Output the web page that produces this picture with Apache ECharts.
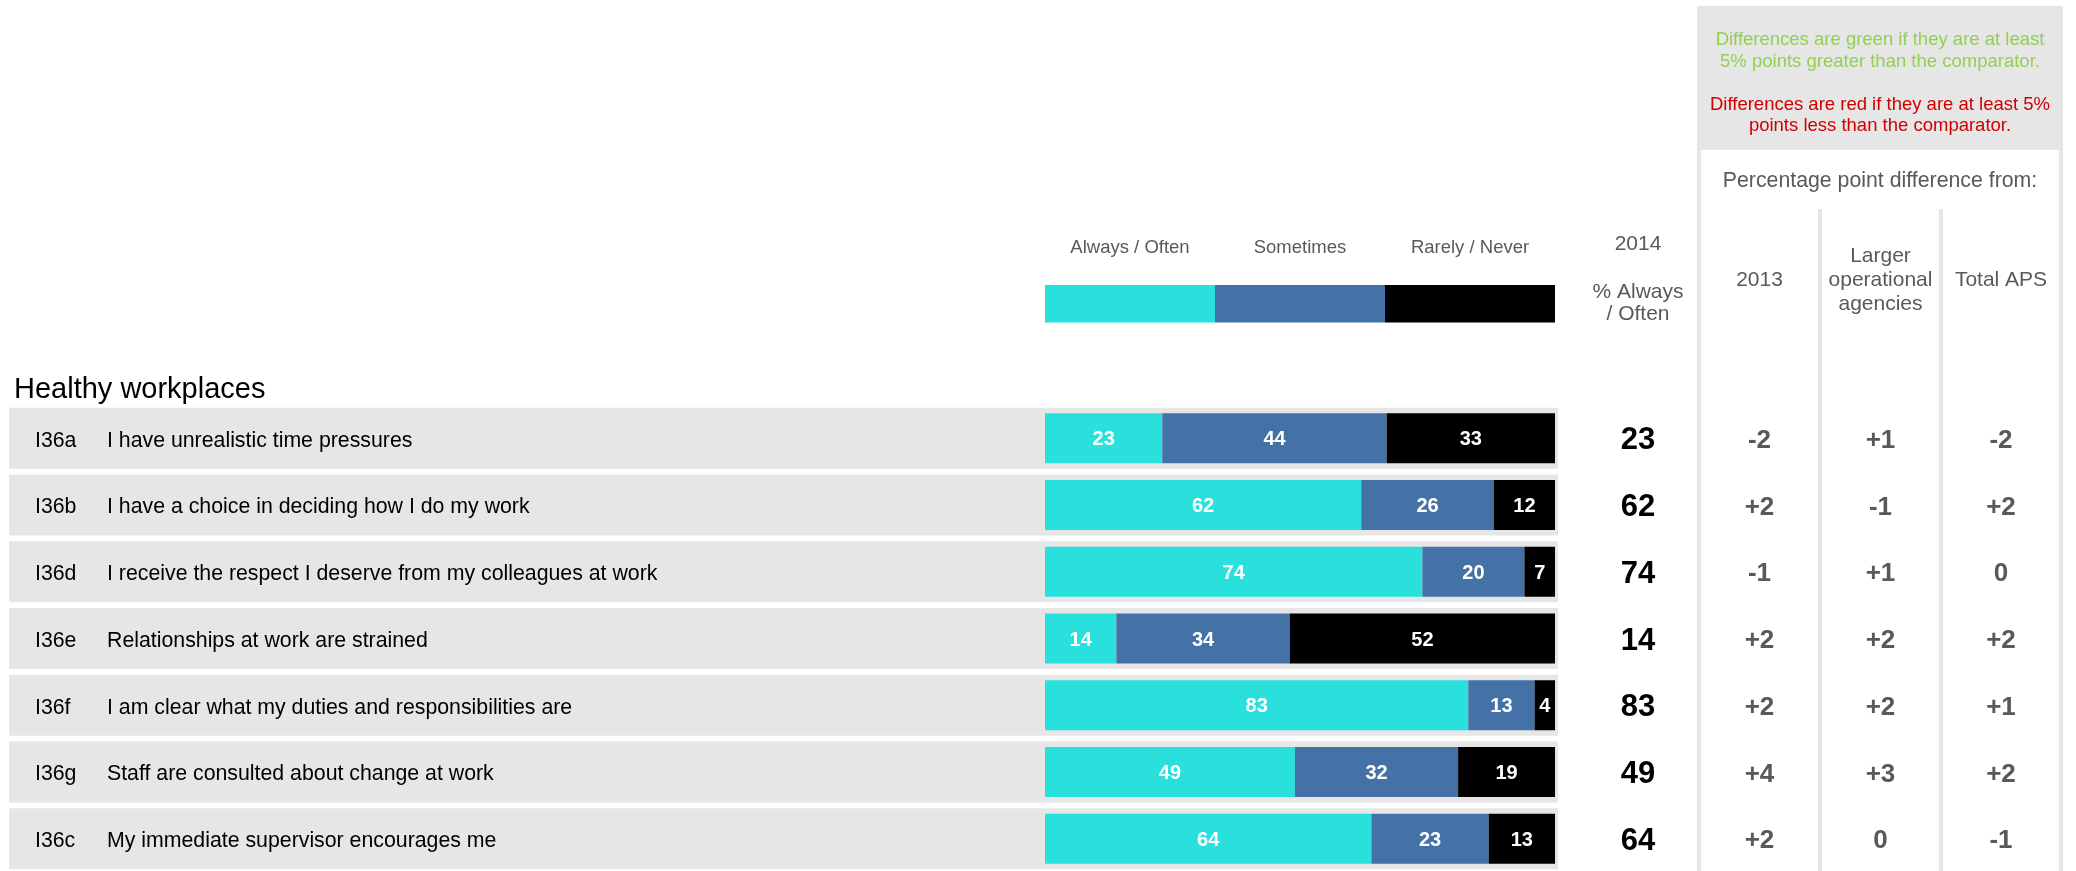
<!DOCTYPE html>
<html>
<head>
<meta charset="utf-8">
<title>Healthy workplaces</title>
<script src="https://cdn.jsdelivr.net/npm/echarts@6/dist/echarts.min.js"></script>
<style>
  html, body { margin: 0; padding: 0; background: #ffffff; }
  #chart { width: 2076px; height: 871px; }
</style>
</head>
<body>
<div id="chart"></div>
<script>
// ---- Survey items (top to bottom) ----
const itemCodes = ['I36a', 'I36b', 'I36d', 'I36e', 'I36f', 'I36g', 'I36c'];
const itemQuestions = [
  'I have unrealistic time pressures',
  'I have a choice in deciding how I do my work',
  'I receive the respect I deserve from my colleagues at work',
  'Relationships at work are strained',
  'I am clear what my duties and responsibilities are',
  'Staff are consulted about change at work',
  'My immediate supervisor encourages me'
];

// ---- Response distribution, % of respondents ----
const alwaysOften = [23, 62, 74, 14, 83, 49, 64];
const sometimes   = [44, 26, 20, 34, 13, 32, 23];
const rarelyNever = [33, 12, 7, 52, 4, 19, 13];

// ---- Percentage point differences from comparators ----
const diff2013     = [-2, 2, -1, 2, 2, 4, 2];
const diffLarger   = [1, -1, 1, 2, 2, 3, 0];
const diffTotalAPS = [-2, 2, 0, 2, 1, 2, -1];

// ---- Key / headings ----
const responseLabels = ['Always / Often', 'Sometimes', 'Rarely / Never'];
const keySwatch = [1, 1, 1];
const comparatorLabels = ['2013', 'Larger\noperational\nagencies', 'Total APS'];

const FONT = '"Liberation Sans", Arial, Helvetica, sans-serif';
const GREY_TEXT = '#595959';
const BAND = '#e6e6e6';
const COLORS = ['#2ae0dc', '#4472a6', '#000000'];

const BAR_LEFT = 1045, BAR_WIDTH = 510;
const ROWS_TOP = 405, ROWS_HEIGHT = 467;
const BAR_RIGHT = BAR_LEFT + BAR_WIDTH;

// centres of the value columns on the right
const COL_2014 = 1638;
const COL_CENTRES = [1759.5, 1880.5, 2001];

// nudges row text a little below the band centre
const ROW_TEXT_PAD = [5, 0, 0, 0];

const signed = v => (v > 0 ? '+' + v : String(v));
const diffTone = v => (v >= 5 ? 'up' : v <= -5 ? 'down' : 'same');

function rowAxis(position, label) {
  return {
    type: 'category', gridIndex: 0, position: position,
    data: itemCodes, inverse: true,
    axisLine: { show: false, onZero: false },
    axisTick: { show: false }, splitLine: { show: false },
    axisLabel: Object.assign({ interval: 0, fontFamily: FONT }, label)
  };
}

// row text drawn as a single rich fragment so it can be nudged down
function rowTextAxis(position, align, margin, style, textOf) {
  return rowAxis(position, {
    align: align, margin: margin,
    fontSize: style.fontSize, fontWeight: style.fontWeight || 'normal', color: style.color,
    formatter: (v, i) => '{t|' + textOf(i) + '}',
    rich: { t: Object.assign({ fontFamily: FONT, padding: ROW_TEXT_PAD }, style) }
  });
}

function diffAxis(values, centre) {
  const tone = color => ({ color: color, fontFamily: FONT, fontSize: 26, fontWeight: 'bold', padding: ROW_TEXT_PAD });
  return rowAxis('right', {
    align: 'center', margin: centre - BAR_RIGHT,
    fontSize: 26, fontWeight: 'bold', color: GREY_TEXT,
    formatter: (v, i) => '{' + diffTone(values[i]) + '|' + signed(values[i]) + '}',
    rich: { up: tone('#92d050'), down: tone('#d00000'), same: tone(GREY_TEXT) }
  });
}

function stackSeries(name, values, color) {
  return {
    name: name, type: 'bar', stack: 'share',
    xAxisIndex: 0, yAxisIndex: 0,
    barWidth: 50, silent: true,
    itemStyle: { color: color },
    label: {
      show: true, position: 'inside', color: '#ffffff',
      fontFamily: FONT, fontSize: 20, fontWeight: 'bold',
      formatter: p => '{v|' + p.value + '}',
      rich: { v: { color: '#ffffff', fontFamily: FONT, fontSize: 20, fontWeight: 'bold', padding: [3, 0, 0, 0] } }
    },
    data: values
  };
}

const staticGraphics = [
  // comparison panel frame
  { type: 'rect', z: 0, shape: { x: 1697, y: 6, width: 366, height: 144 }, style: { fill: BAND } },
  { type: 'rect', z: 0, shape: { x: 1697, y: 150, width: 4, height: 721 }, style: { fill: BAND } },
  { type: 'rect', z: 0, shape: { x: 2059, y: 150, width: 4, height: 721 }, style: { fill: BAND } },
  { type: 'rect', z: 0, shape: { x: 1818, y: 209, width: 4, height: 662 }, style: { fill: BAND } },
  { type: 'rect', z: 0, shape: { x: 1939, y: 209, width: 4, height: 662 }, style: { fill: BAND } },
  { type: 'text', z: 1, x: 1880, y: 51, style: {
      text: 'Differences are green if they are at least\n5% points greater than the comparator.',
      fill: '#92d050', font: '18.5px ' + FONT, align: 'center', verticalAlign: 'middle', lineHeight: 22 } },
  { type: 'text', z: 1, x: 1880, y: 115.5, style: {
      text: 'Differences are red if they are at least 5%\npoints less than the comparator.',
      fill: '#d00000', font: '18.5px ' + FONT, align: 'center', verticalAlign: 'middle', lineHeight: 21 } },
  { type: 'text', z: 1, x: 1880, y: 181, style: {
      text: 'Percentage point difference from:', fill: GREY_TEXT, font: '21.3px ' + FONT,
      align: 'center', verticalAlign: 'middle' } },
  // 2014 column heading
  { type: 'text', z: 1, x: COL_2014, y: 244, style: {
      text: '2014', fill: GREY_TEXT, font: '21px ' + FONT, align: 'center', verticalAlign: 'middle' } },
  { type: 'text', z: 1, x: COL_2014, y: 303.5, style: {
      text: '% Always\n/ Often', fill: GREY_TEXT, font: '21px ' + FONT, align: 'center',
      verticalAlign: 'middle', lineHeight: 22 } },
  // section heading
  { type: 'text', z: 1, x: 14, y: 390, style: {
      text: 'Healthy workplaces', fill: '#000000', font: '29px ' + FONT, align: 'left', verticalAlign: 'middle' } }
].concat(comparatorLabels.map((t, i) => ({
  type: 'text', z: 1, x: COL_CENTRES[i], y: 280, style: {
    text: t, fill: GREY_TEXT, font: '21px ' + FONT, align: 'center', verticalAlign: 'middle', lineHeight: 24 }
})));

const chart = echarts.init(document.getElementById('chart'), null, { renderer: 'canvas' });

const rowTextStyle = { fontSize: 21.3, color: '#000000' };

chart.setOption({
  animation: false,
  backgroundColor: '#ffffff',
  textStyle: { fontFamily: FONT },
  grid: [
    { left: BAR_LEFT, top: ROWS_TOP, width: BAR_WIDTH, height: ROWS_HEIGHT, containLabel: false, outerBoundsMode: 'none' },
    { left: BAR_LEFT, top: 285, width: BAR_WIDTH, height: 37.5, containLabel: false, outerBoundsMode: 'none' }
  ],
  xAxis: [
    { type: 'value', gridIndex: 0, min: 0, max: 100, show: false },
    {
      type: 'category', gridIndex: 1, position: 'top', data: responseLabels,
      axisLine: { show: false, onZero: false }, axisTick: { show: false },
      axisLabel: { interval: 0, margin: 28, fontSize: 18.5, color: GREY_TEXT, fontFamily: FONT }
    }
  ],
  yAxis: [
    rowTextAxis('left', 'left', BAR_LEFT - 35, rowTextStyle, i => itemCodes[i]),
    rowTextAxis('left', 'left', BAR_LEFT - 107, rowTextStyle, i => itemQuestions[i]),
    rowTextAxis('right', 'center', COL_2014 - BAR_RIGHT,
                { fontSize: 31, fontWeight: 'bold', color: '#000000' }, i => String(alwaysOften[i])),
    diffAxis(diff2013, COL_CENTRES[0]),
    diffAxis(diffLarger, COL_CENTRES[1]),
    diffAxis(diffTotalAPS, COL_CENTRES[2]),
    { type: 'value', gridIndex: 1, min: 0, max: 1, show: false }
  ],
  series: [
    stackSeries(responseLabels[0], alwaysOften, COLORS[0]),
    stackSeries(responseLabels[1], sometimes, COLORS[1]),
    stackSeries(responseLabels[2], rarelyNever, COLORS[2]),
    {
      name: 'key', type: 'bar', xAxisIndex: 1, yAxisIndex: 6,
      barWidth: '100%', silent: true,
      data: keySwatch.map((v, i) => ({ value: v, itemStyle: { color: COLORS[i] } }))
    }
  ],
  graphic: { elements: staticGraphics }
});

// grey row bands placed on the category axis positions
const bandGraphics = itemCodes.map((code, i) => {
  const cy = chart.convertToPixel({ yAxisIndex: 0 }, i);
  return { type: 'rect', z: -1, shape: { x: 9, y: cy - 30.5, width: 1549, height: 61 }, style: { fill: BAND } };
});
chart.setOption({ graphic: { elements: staticGraphics.concat(bandGraphics) } });
</script>
</body>
</html>
